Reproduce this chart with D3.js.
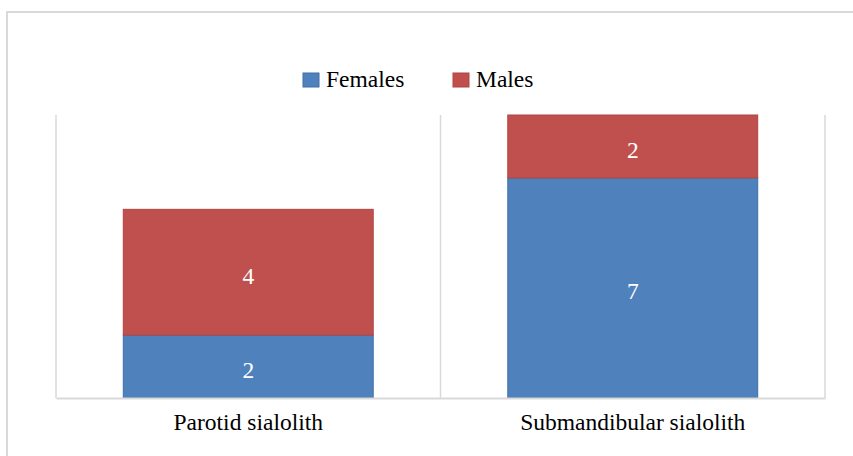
<!DOCTYPE html>
<html>
<head>
<meta charset="utf-8">
<script src="https://cdn.jsdelivr.net/npm/d3@7"></script>
<style>
  body { margin: 0; background: #fff; }
  text { font-family: "Liberation Serif", "Times New Roman", serif; }
</style>
</head>
<body>
<div id="chart"></div>
<script>
var categories = ["Parotid sialolith", "Submandibular sialolith"];
var seriesNames = ["Females", "Males"];
var females = [2, 7];
var males = [4, 2];
var colors = ["#4F81BD", "#C0504D"];
var strokes = ["#3F6FA8", "#B04441"];

var width = 853, height = 456;
var margin = { top: 115, right: 28, bottom: 58, left: 56 };
var innerW = width - margin.left - margin.right;
var innerH = height - margin.top - margin.bottom;
var fontSize = "23.5px";

var svg = d3.select("#chart").append("svg")
    .attr("width", width)
    .attr("height", height);

// outer frame (top and left only visible)
svg.append("path")
    .attr("d", "M7,456V12H853")
    .attr("fill", "none")
    .attr("stroke", "#d9d9d9")
    .attr("stroke-width", 2);

var table = categories.map(function (c, i) {
    return { cat: c, Females: females[i], Males: males[i] };
});
var stacked = d3.stack().keys(seriesNames)(table);

var x = d3.scaleBand().domain(categories).range([0, innerW]).paddingInner(0.35).paddingOuter(0.175);
var xCell = d3.scaleBand().domain(categories).range([0, innerW]);
var y = d3.scaleLinear().domain([0, 9]).range([innerH, 0]);

var g = svg.append("g")
    .attr("transform", "translate(" + margin.left + "," + margin.top + ")");

// vertical category separators
var seps = [0].concat(categories.map(function (c) { return xCell(c) + xCell.bandwidth(); }));
g.selectAll(".sep").data(seps).enter().append("line")
    .attr("x1", function (d) { return d; })
    .attr("x2", function (d) { return d; })
    .attr("y1", 0)
    .attr("y2", innerH)
    .attr("stroke", "#d9d9d9")
    .attr("stroke-width", 1.5);

var layers = g.selectAll(".layer").data(stacked).enter().append("g")
    .attr("fill", function (d, i) { return colors[i]; })
    .attr("stroke", function (d, i) { return strokes[i]; });

layers.selectAll("rect").data(function (d) { return d; }).enter().append("rect")
    .attr("x", function (d) { return x(d.data.cat); })
    .attr("width", x.bandwidth())
    .attr("y", function (d) { return y(d[1]); })
    .attr("height", function (d) { return y(d[0]) - y(d[1]); })
    .attr("stroke-width", 1);

layers.selectAll("text").data(function (d) { return d; }).enter().append("text")
    .attr("x", function (d) { return x(d.data.cat) + x.bandwidth() / 2; })
    .attr("y", function (d) { return (y(d[0]) + y(d[1])) / 2; })
    .attr("dy", "0.48em")
    .attr("text-anchor", "middle")
    .attr("fill", "#fff")
    .attr("stroke", "none")
    .style("font-size", fontSize)
    .text(function (d) { return d[1] - d[0]; });

// x axis baseline and labels
var xAxis = g.append("g")
    .attr("transform", "translate(0," + innerH + ")")
    .call(d3.axisBottom(xCell).tickSize(0).tickPadding(15));
xAxis.select(".domain").attr("stroke", "#d9d9d9").attr("stroke-width", 2);
xAxis.selectAll("text")
    .style("font-size", fontSize)
    .style("font-family", "'Liberation Serif', 'Times New Roman', serif")
    .attr("fill", "#000");

// legend
var legendX = [303, 453];
var legend = svg.selectAll(".legend").data(seriesNames).enter().append("g")
    .attr("transform", function (d, i) { return "translate(" + legendX[i] + ",73)"; });
legend.append("rect")
    .attr("width", 16)
    .attr("height", 14)
    .attr("fill", function (d, i) { return colors[i]; })
    .attr("stroke", function (d, i) { return strokes[i]; });
legend.append("text")
    .attr("x", 23)
    .attr("y", 14)
    .style("font-size", fontSize)
    .attr("fill", "#000")
    .text(function (d) { return d; });
</script>
</body>
</html>
